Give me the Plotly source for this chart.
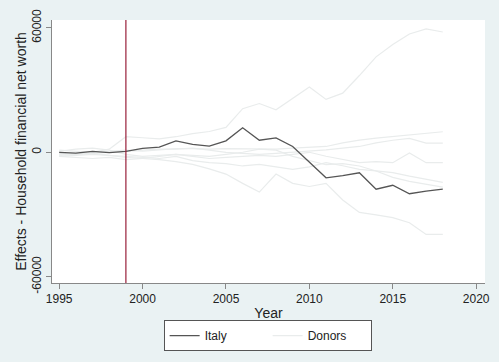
import plotly.graph_objects as go

years = list(range(1995, 2019))

italy = [0, -400, 400, -200, 400, 1900, 2500, 5500, 3800, 3000, 5500, 11800,
         5800, 6900, 2800, -4700, -12300, -11300, -9900, -17800, -15900, -20000,
         -18700, -17800]

donor_1 = [-1000, -500, 0, 1500, 7500, 7000, 6500, 7500, 9000, 10000, 12000, 21000,
           23500, 20500, 26000, 31500, 25500, 28500, 37000, 46000, 52000, 57000,
           59500, 58000]
donor_2 = [-2000, -1500, -1000, -1500, -2500, -3000, -3500, -4500, -5800, -8000,
           -10500, -15000, -19200, -10500, -15000, -16500, -15000, -23000, -29000,
           -30200, -31500, -34000, -39600, -39600]
donor_3 = [-500, -1000, -500, -1500, -2000, -2500, -3000, -2000, -4000, -5000,
           -5500, -6600, -5800, -7000, -8200, -7000, -5000, -6500, -8200, -9000,
           -9800, -11500, -12900, -14500]
donor_4 = [1000, 500, 0, 500, 1000, 500, 1000, 1800, 1800, 1500, 1800, 1800,
           1800, 1500, 2000, 2500, 2800, 4500, 5900, 6800, 7500, 8300, 9100, 9900]
donor_5 = [-1500, -1000, -500, 0, 500, 1000, 1500, 1500, 2000, 1000, 0, -500,
           -1000, -500, 0, 500, 1200, 2000, 2800, 4500, 5800, 6700, 4400, 4400]
donor_6 = [500, 1500, 2000, 1000, -1000, -2000, -1500, -1000, -2000, -3000, -2500,
           -2000, -1500, -2000, -1000, 0, -1900, -3500, -5000, -4500, -5000, -300,
           -5000, -5000]
donor_7 = [-2000, -2500, -3000, -2500, -3500, -3000, -2000, -1000, -1500, -2000,
           -1000, 0, 1500, 1000, -2000, -4000, -6000, -5500, -6600, -9000, -12100,
           -14000, -15500, -16800]
donors = [donor_1, donor_2, donor_3, donor_4, donor_5, donor_6, donor_7]

treat_year = 1999
x_ticks = [1995, 2000, 2005, 2010, 2015, 2020]
y_ticks = [-60000, 0, 60000]

fig = go.Figure()
fig.add_trace(go.Scatter(
    x=years, y=italy, mode="lines", name="Italy",
    line=dict(color="#555555", width=1.3)))
for i, d in enumerate(donors):
    fig.add_trace(go.Scatter(
        x=years, y=d, mode="lines", name="Donors", legendgroup="donors",
        showlegend=(i == 0), line=dict(color="#E9ECEC", width=1.2)))

# Italy drawn on top
fig.data = fig.data[1:] + (fig.data[0],)

fig.add_shape(type="line", x0=treat_year, x1=treat_year, y0=0, y1=1,
              xref="x", yref="paper", line=dict(color="#98203A", width=1.2),
              layer="above")

fig.update_layout(
    width=499, height=362,
    margin=dict(l=52, r=9, t=14, b=79),
    paper_bgcolor="#EAF2F3",
    plot_bgcolor="#FFFFFF",
    font=dict(family="Liberation Sans, Arial, sans-serif", size=12, color="#222222"),
    showlegend=True,
    legend=dict(orientation="h", x=0.498, xanchor="center", y=-0.2, yanchor="middle",
                bgcolor="#FFFFFF", bordercolor="#555555", borderwidth=1,
                font=dict(size=12), traceorder="reversed",
                entrywidth=58, entrywidthmode="pixels"),
    xaxis=dict(range=[1994.57, 2020.53], tickvals=x_ticks,
               ticks="outside", ticklen=5, tickcolor="#888888",
               showgrid=False, zeroline=False, showline=True,
               linecolor="#888888", linewidth=1,
               title=dict(text="Year", standoff=2)),
    yaxis=dict(range=[-63020, 63770], tickvals=y_ticks,
               ticktext=[str(v) for v in y_ticks], tickangle=-90,
               ticks="outside", ticklen=5, tickcolor="#888888",
               showgrid=False, zeroline=False, showline=True,
               linecolor="#888888", linewidth=1,
               title=dict(text="Effects - Household financial net worth", standoff=0)),
)

fig.write_html("out.html")
